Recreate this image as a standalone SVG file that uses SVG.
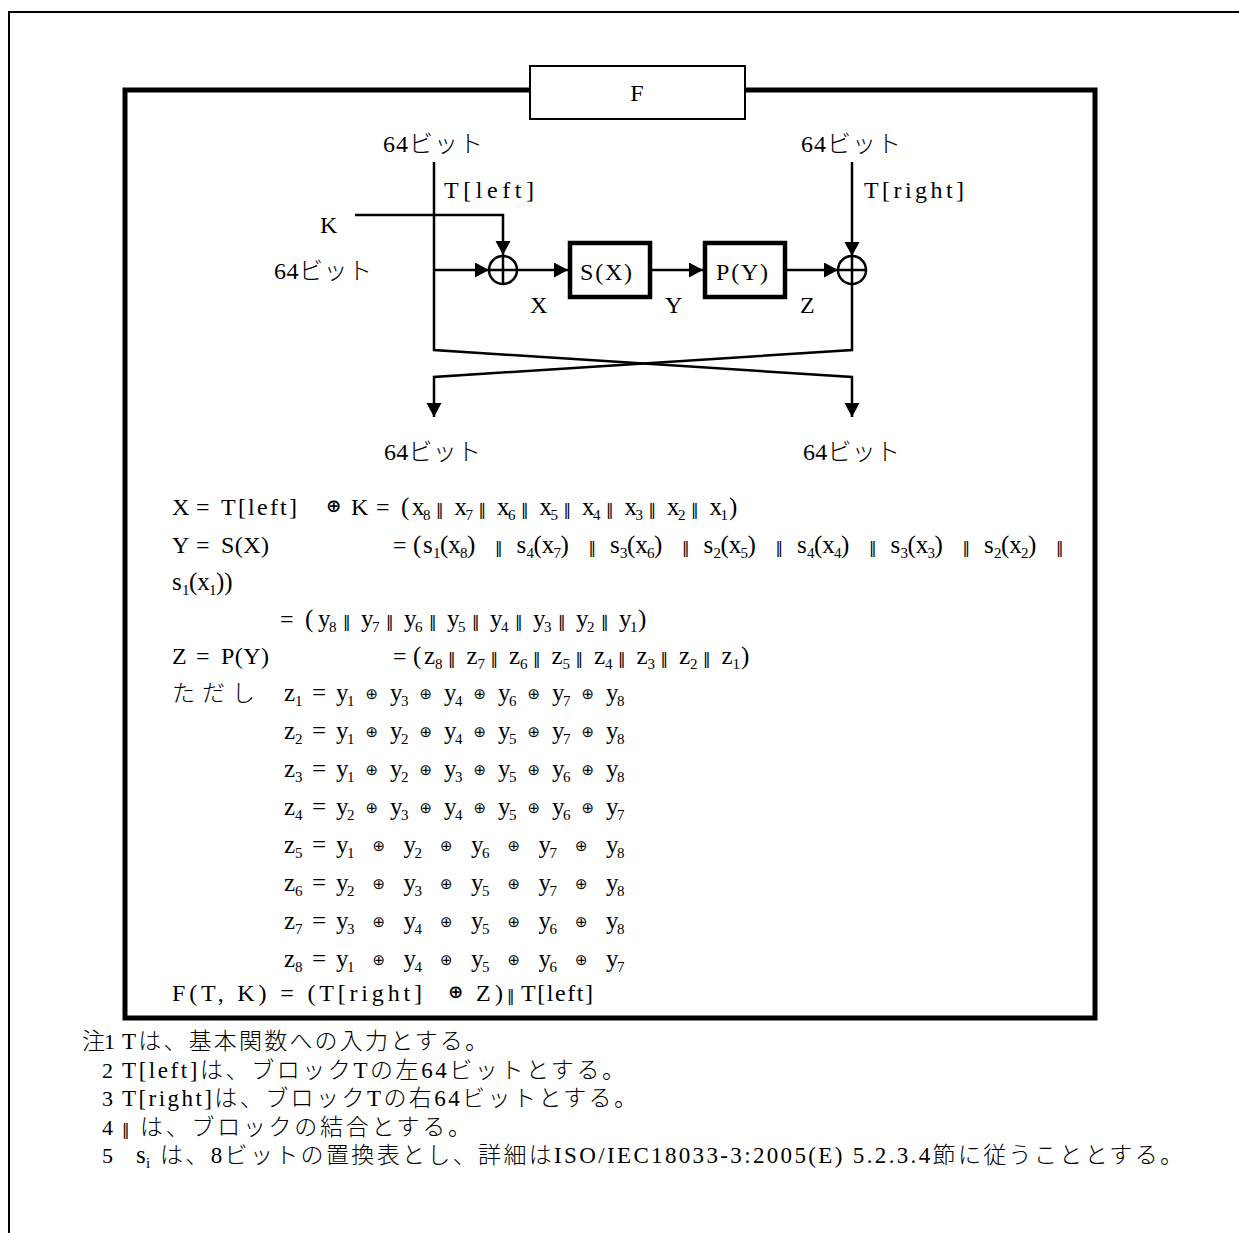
<svg xmlns="http://www.w3.org/2000/svg" width="1239" height="1233" viewBox="0 0 1239 1233">
<defs>
<marker id="ah" markerUnits="userSpaceOnUse" markerWidth="16" markerHeight="16" refX="14" refY="7.5" orient="auto"><path d="M0,0 L14,7.5 L0,15 Z" fill="#000"/></marker>
<style>
.t{font-family:"Liberation Serif","Noto Sans CJK JP",serif;font-size:24px;font-weight:300;fill:#000}
.j{font-family:"Liberation Serif","Noto Sans CJK JP",serif;font-size:23px;font-weight:300;fill:#000}
.n{font-family:"Liberation Serif",serif;font-size:22px;fill:#000}
.v{font-family:"Liberation Serif",serif;font-size:25px;fill:#000}
.s{font-family:"Liberation Serif",serif;font-size:15px}
.p{font-family:"DejaVu Sans",sans-serif;font-size:15px;font-weight:normal}
.o{font-family:"DejaVu Sans",sans-serif;font-size:15px}
.b{font-family:"DejaVu Sans",sans-serif;font-size:18px;font-weight:bold}
.ln{fill:none;stroke:#000;stroke-width:2.5}
.arr{fill:none;stroke:#000;stroke-width:2.5;marker-end:url(#ah)}
.box{fill:#fff;stroke:#000;stroke-width:4.5}
.xor{fill:#fff;stroke:#000;stroke-width:2.5}
</style>
</defs>
<rect width="1239" height="1233" fill="#fff"/>

<g id="page-border">
<path d="M9,1233 V12 H1239" fill="none" stroke="#000" stroke-width="2"/>
</g>

<g id="frame">
<rect x="125" y="90" width="970" height="928" fill="none" stroke="#000" stroke-width="5"/>
</g>

<g id="title">
<rect x="530" y="66" width="215" height="53" fill="#fff" stroke="#000" stroke-width="2"/>
<text class="t" x="637" y="101" text-anchor="middle">F</text>
</g>

<g id="connectors">
<path class="arr" d="M434,162 V350 L852,377 V417"/>
<path class="arr" d="M852,284 V350 L434,377 V417"/>
<path class="arr" d="M852,162 V256"/>
<path class="arr" d="M355,215 H503 V255"/>
<path class="arr" d="M434,270 H489"/>
<path class="arr" d="M517,270 H568"/>
<path class="arr" d="M652,270 H703"/>
<path class="arr" d="M787,270 H838"/>
</g>

<g id="xor-left">
<circle class="xor" cx="503" cy="270" r="14"/>
<path class="ln" d="M489,270 H517 M503,256 V284"/>
</g>
<g id="xor-right">
<circle class="xor" cx="852" cy="270" r="14"/>
<path class="ln" d="M838,270 H866 M852,256 V284"/>
</g>
<g id="s-box">
<rect class="box" x="570" y="243" width="80" height="54"/>
<text class="t" x="580" y="280" textLength="52">S(X)</text>
</g>
<g id="p-box">
<rect class="box" x="705" y="243" width="80" height="54"/>
<text class="t" x="716" y="280" textLength="52">P(Y)</text>
</g>

<g id="diagram-labels">
<text class="t" x="383" y="152" textLength="100">64ビット</text>
<text class="t" x="801" y="152" textLength="100">64ビット</text>
<text class="t" x="444" y="198" textLength="90">T[left]</text>
<text class="t" x="864" y="198" textLength="100">T[right]</text>
<text class="t" x="320" y="233">K</text>
<text class="t" x="274" y="279" textLength="98">64ビット</text>
<text class="t" x="530" y="313">X</text>
<text class="t" x="665" y="313">Y</text>
<text class="t" x="800" y="313">Z</text>
<text class="t" x="384" y="460" textLength="97">64ビット</text>
<text class="t" x="803" y="460" textLength="97">64ビット</text>
</g>

<g id="equations">
<!-- line 1 -->
<text class="t" x="172" y="515">X</text>
<text class="t" x="196" y="515">=</text>
<text class="t" x="221" y="515" textLength="76">T[left]</text>
<text class="b" x="326" y="512">⊕</text>
<text class="t" x="351" y="515">K</text>
<text class="t" x="376" y="515">=</text>
<text class="v" y="515"><tspan x="401">(</tspan><tspan x="412">x</tspan><tspan class="s" x="423" y="520">8</tspan><tspan class="p" x="436" y="515">‖</tspan><tspan x="454.5">x</tspan><tspan class="s" x="465.5" y="520">7</tspan><tspan class="p" x="478.5" y="515">‖</tspan><tspan x="497">x</tspan><tspan class="s" x="508" y="520">6</tspan><tspan class="p" x="521" y="515">‖</tspan><tspan x="539.5">x</tspan><tspan class="s" x="550.5" y="520">5</tspan><tspan class="p" x="563.5" y="515">‖</tspan><tspan x="582">x</tspan><tspan class="s" x="593" y="520">4</tspan><tspan class="p" x="606" y="515">‖</tspan><tspan x="624.5">x</tspan><tspan class="s" x="635.5" y="520">3</tspan><tspan class="p" x="648.5" y="515">‖</tspan><tspan x="667">x</tspan><tspan class="s" x="678" y="520">2</tspan><tspan class="p" x="691" y="515">‖</tspan><tspan x="709.5">x</tspan><tspan class="s" x="720.5" y="520">1</tspan><tspan x="729" y="515">)</tspan></text>

<!-- line 2 -->
<text class="t" x="172" y="553">Y</text>
<text class="t" x="196" y="553">=</text>
<text class="t" x="221" y="553" textLength="48">S(X)</text>
<text class="t" x="393" y="553">=</text>
<text class="v" y="553"><tspan x="413">(</tspan><tspan x="423">s</tspan><tspan class="s" x="433" y="558">1</tspan><tspan x="440" y="553">(x</tspan><tspan class="s" x="460" y="558">8</tspan><tspan x="467" y="553">)</tspan><tspan class="p" x="495">‖</tspan><tspan x="516.5">s</tspan><tspan class="s" x="526.5" y="558">4</tspan><tspan x="533.5" y="553">(x</tspan><tspan class="s" x="553.5" y="558">7</tspan><tspan x="560.5" y="553">)</tspan><tspan class="p" x="588.5">‖</tspan><tspan x="610">s</tspan><tspan class="s" x="620" y="558">3</tspan><tspan x="627" y="553">(x</tspan><tspan class="s" x="647" y="558">6</tspan><tspan x="654" y="553">)</tspan><tspan class="p" x="682">‖</tspan><tspan x="703.5">s</tspan><tspan class="s" x="713.5" y="558">2</tspan><tspan x="720.5" y="553">(x</tspan><tspan class="s" x="740.5" y="558">5</tspan><tspan x="747.5" y="553">)</tspan><tspan class="p" x="775.5">‖</tspan><tspan x="797">s</tspan><tspan class="s" x="807" y="558">4</tspan><tspan x="814" y="553">(x</tspan><tspan class="s" x="834" y="558">4</tspan><tspan x="841" y="553">)</tspan><tspan class="p" x="869">‖</tspan><tspan x="890.5">s</tspan><tspan class="s" x="900.5" y="558">3</tspan><tspan x="907.5" y="553">(x</tspan><tspan class="s" x="927.5" y="558">3</tspan><tspan x="934.5" y="553">)</tspan><tspan class="p" x="962.5">‖</tspan><tspan x="984">s</tspan><tspan class="s" x="994" y="558">2</tspan><tspan x="1001" y="553">(x</tspan><tspan class="s" x="1021" y="558">2</tspan><tspan x="1028" y="553">)</tspan><tspan class="p" x="1056">‖</tspan></text>

<!-- line 3 -->
<text class="v" y="590"><tspan x="172">s</tspan><tspan class="s" x="182" y="595">1</tspan><tspan x="189" y="590">(x</tspan><tspan class="s" x="209" y="595">1</tspan><tspan x="216" y="590">))</tspan></text>

<!-- line 4 -->
<text class="t" x="280" y="627">=</text>
<text class="v" y="627"><tspan x="305">(</tspan><tspan x="318">y</tspan><tspan class="s" x="329" y="632">8</tspan><tspan class="p" x="343" y="627">‖</tspan><tspan x="361">y</tspan><tspan class="s" x="372" y="632">7</tspan><tspan class="p" x="386" y="627">‖</tspan><tspan x="404">y</tspan><tspan class="s" x="415" y="632">6</tspan><tspan class="p" x="429" y="627">‖</tspan><tspan x="447">y</tspan><tspan class="s" x="458" y="632">5</tspan><tspan class="p" x="472" y="627">‖</tspan><tspan x="490">y</tspan><tspan class="s" x="501" y="632">4</tspan><tspan class="p" x="515" y="627">‖</tspan><tspan x="533">y</tspan><tspan class="s" x="544" y="632">3</tspan><tspan class="p" x="558" y="627">‖</tspan><tspan x="576">y</tspan><tspan class="s" x="587" y="632">2</tspan><tspan class="p" x="601" y="627">‖</tspan><tspan x="619">y</tspan><tspan class="s" x="630" y="632">1</tspan><tspan x="638" y="627">)</tspan></text>

<!-- line 5 -->
<text class="t" x="172" y="664">Z</text>
<text class="t" x="196" y="664">=</text>
<text class="t" x="221" y="664" textLength="48">P(Y)</text>
<text class="t" x="393" y="664">=</text>
<text class="v" y="664"><tspan x="413">(</tspan><tspan x="424">z</tspan><tspan class="s" x="435" y="669">8</tspan><tspan class="p" x="448" y="664">‖</tspan><tspan x="466.5">z</tspan><tspan class="s" x="477.5" y="669">7</tspan><tspan class="p" x="490.5" y="664">‖</tspan><tspan x="509">z</tspan><tspan class="s" x="520" y="669">6</tspan><tspan class="p" x="533" y="664">‖</tspan><tspan x="551.5">z</tspan><tspan class="s" x="562.5" y="669">5</tspan><tspan class="p" x="575.5" y="664">‖</tspan><tspan x="594">z</tspan><tspan class="s" x="605" y="669">4</tspan><tspan class="p" x="618" y="664">‖</tspan><tspan x="636.5">z</tspan><tspan class="s" x="647.5" y="669">3</tspan><tspan class="p" x="660.5" y="664">‖</tspan><tspan x="679">z</tspan><tspan class="s" x="690" y="669">2</tspan><tspan class="p" x="703" y="664">‖</tspan><tspan x="721.5">z</tspan><tspan class="s" x="732.5" y="669">1</tspan><tspan x="741" y="664">)</tspan></text>

<!-- line 6: tadashi z1 -->
<text class="j" x="172" y="701" textLength="83">ただし</text>
<text class="v" y="701"><tspan x="284">z</tspan><tspan class="s" x="295" y="706">1</tspan><tspan x="312" y="701">=</tspan><tspan x="336">y</tspan><tspan class="s" x="347" y="706">1</tspan><tspan x="390" y="701">y</tspan><tspan class="s" x="401" y="706">3</tspan><tspan x="444" y="701">y</tspan><tspan class="s" x="455" y="706">4</tspan><tspan x="498" y="701">y</tspan><tspan class="s" x="509" y="706">6</tspan><tspan x="552" y="701">y</tspan><tspan class="s" x="563" y="706">7</tspan><tspan x="606" y="701">y</tspan><tspan class="s" x="617" y="706">8</tspan></text>
<text class="o" y="699"><tspan x="365.5">⊕</tspan><tspan x="419.5">⊕</tspan><tspan x="473.5">⊕</tspan><tspan x="527.5">⊕</tspan><tspan x="581.5">⊕</tspan></text>

<!-- z2 -->
<text class="v" y="739"><tspan x="284">z</tspan><tspan class="s" x="295" y="744">2</tspan><tspan x="312" y="739">=</tspan><tspan x="336">y</tspan><tspan class="s" x="347" y="744">1</tspan><tspan x="390" y="739">y</tspan><tspan class="s" x="401" y="744">2</tspan><tspan x="444" y="739">y</tspan><tspan class="s" x="455" y="744">4</tspan><tspan x="498" y="739">y</tspan><tspan class="s" x="509" y="744">5</tspan><tspan x="552" y="739">y</tspan><tspan class="s" x="563" y="744">7</tspan><tspan x="606" y="739">y</tspan><tspan class="s" x="617" y="744">8</tspan></text>
<text class="o" y="737"><tspan x="365.5">⊕</tspan><tspan x="419.5">⊕</tspan><tspan x="473.5">⊕</tspan><tspan x="527.5">⊕</tspan><tspan x="581.5">⊕</tspan></text>

<!-- z3 -->
<text class="v" y="777"><tspan x="284">z</tspan><tspan class="s" x="295" y="782">3</tspan><tspan x="312" y="777">=</tspan><tspan x="336">y</tspan><tspan class="s" x="347" y="782">1</tspan><tspan x="390" y="777">y</tspan><tspan class="s" x="401" y="782">2</tspan><tspan x="444" y="777">y</tspan><tspan class="s" x="455" y="782">3</tspan><tspan x="498" y="777">y</tspan><tspan class="s" x="509" y="782">5</tspan><tspan x="552" y="777">y</tspan><tspan class="s" x="563" y="782">6</tspan><tspan x="606" y="777">y</tspan><tspan class="s" x="617" y="782">8</tspan></text>
<text class="o" y="775"><tspan x="365.5">⊕</tspan><tspan x="419.5">⊕</tspan><tspan x="473.5">⊕</tspan><tspan x="527.5">⊕</tspan><tspan x="581.5">⊕</tspan></text>

<!-- z4 -->
<text class="v" y="815"><tspan x="284">z</tspan><tspan class="s" x="295" y="820">4</tspan><tspan x="312" y="815">=</tspan><tspan x="336">y</tspan><tspan class="s" x="347" y="820">2</tspan><tspan x="390" y="815">y</tspan><tspan class="s" x="401" y="820">3</tspan><tspan x="444" y="815">y</tspan><tspan class="s" x="455" y="820">4</tspan><tspan x="498" y="815">y</tspan><tspan class="s" x="509" y="820">5</tspan><tspan x="552" y="815">y</tspan><tspan class="s" x="563" y="820">6</tspan><tspan x="606" y="815">y</tspan><tspan class="s" x="617" y="820">7</tspan></text>
<text class="o" y="813"><tspan x="365.5">⊕</tspan><tspan x="419.5">⊕</tspan><tspan x="473.5">⊕</tspan><tspan x="527.5">⊕</tspan><tspan x="581.5">⊕</tspan></text>

<!-- z5 -->
<text class="v" y="853"><tspan x="284">z</tspan><tspan class="s" x="295" y="858">5</tspan><tspan x="312" y="853">=</tspan><tspan x="336">y</tspan><tspan class="s" x="347" y="858">1</tspan><tspan x="403.5" y="853">y</tspan><tspan class="s" x="414.5" y="858">2</tspan><tspan x="471" y="853">y</tspan><tspan class="s" x="482" y="858">6</tspan><tspan x="538.5" y="853">y</tspan><tspan class="s" x="549.5" y="858">7</tspan><tspan x="606" y="853">y</tspan><tspan class="s" x="617" y="858">8</tspan></text>
<text class="o" y="851"><tspan x="372.5">⊕</tspan><tspan x="440">⊕</tspan><tspan x="507.5">⊕</tspan><tspan x="575">⊕</tspan></text>

<!-- z6 -->
<text class="v" y="891"><tspan x="284">z</tspan><tspan class="s" x="295" y="896">6</tspan><tspan x="312" y="891">=</tspan><tspan x="336">y</tspan><tspan class="s" x="347" y="896">2</tspan><tspan x="403.5" y="891">y</tspan><tspan class="s" x="414.5" y="896">3</tspan><tspan x="471" y="891">y</tspan><tspan class="s" x="482" y="896">5</tspan><tspan x="538.5" y="891">y</tspan><tspan class="s" x="549.5" y="896">7</tspan><tspan x="606" y="891">y</tspan><tspan class="s" x="617" y="896">8</tspan></text>
<text class="o" y="889"><tspan x="372.5">⊕</tspan><tspan x="440">⊕</tspan><tspan x="507.5">⊕</tspan><tspan x="575">⊕</tspan></text>

<!-- z7 -->
<text class="v" y="929"><tspan x="284">z</tspan><tspan class="s" x="295" y="934">7</tspan><tspan x="312" y="929">=</tspan><tspan x="336">y</tspan><tspan class="s" x="347" y="934">3</tspan><tspan x="403.5" y="929">y</tspan><tspan class="s" x="414.5" y="934">4</tspan><tspan x="471" y="929">y</tspan><tspan class="s" x="482" y="934">5</tspan><tspan x="538.5" y="929">y</tspan><tspan class="s" x="549.5" y="934">6</tspan><tspan x="606" y="929">y</tspan><tspan class="s" x="617" y="934">8</tspan></text>
<text class="o" y="927"><tspan x="372.5">⊕</tspan><tspan x="440">⊕</tspan><tspan x="507.5">⊕</tspan><tspan x="575">⊕</tspan></text>

<!-- z8 -->
<text class="v" y="967"><tspan x="284">z</tspan><tspan class="s" x="295" y="972">8</tspan><tspan x="312" y="967">=</tspan><tspan x="336">y</tspan><tspan class="s" x="347" y="972">1</tspan><tspan x="403.5" y="967">y</tspan><tspan class="s" x="414.5" y="972">4</tspan><tspan x="471" y="967">y</tspan><tspan class="s" x="482" y="972">5</tspan><tspan x="538.5" y="967">y</tspan><tspan class="s" x="549.5" y="972">6</tspan><tspan x="606" y="967">y</tspan><tspan class="s" x="617" y="972">7</tspan></text>
<text class="o" y="965"><tspan x="372.5">⊕</tspan><tspan x="440">⊕</tspan><tspan x="507.5">⊕</tspan><tspan x="575">⊕</tspan></text>

<!-- F line -->
<text class="t" x="172" y="1001" textLength="250">F(T, K) = (T[right]</text>
<text class="b" x="448" y="998">⊕</text>
<text class="t" x="476" y="1001" textLength="27">Z)</text>
<text class="p" x="507" y="1001">‖</text>
<text class="t" x="521" y="1001" textLength="72">T[left]</text>
</g>

<g id="notes">
<text class="j" x="82" y="1049">注</text>
<text class="n" x="104" y="1049">1</text>
<text class="j" x="122" y="1049" textLength="366">Tは、基本関数への入力とする。</text>
<text class="n" x="102" y="1077.5">2</text>
<text class="j" x="122" y="1077.5" textLength="503">T[left]は、ブロックTの左64ビットとする。</text>
<text class="n" x="102" y="1106">3</text>
<text class="j" x="122" y="1106" textLength="515">T[right]は、ブロックTの右64ビットとする。</text>
<text class="n" x="102" y="1134.5">4</text>
<text class="p" x="122" y="1134.5">‖</text>
<text class="j" x="140" y="1134.5" textLength="331">は、ブロックの結合とする。</text>
<text class="n" x="102" y="1163">5</text>
<text class="v" y="1163"><tspan x="136">s</tspan><tspan class="s" x="146" y="1168">i</tspan></text>
<text class="j" x="160" y="1163" textLength="1023">は、8ビットの置換表とし、詳細はISO/IEC18033-3:2005(E) 5.2.3.4節に従うこととする。</text>
</g>
</svg>
